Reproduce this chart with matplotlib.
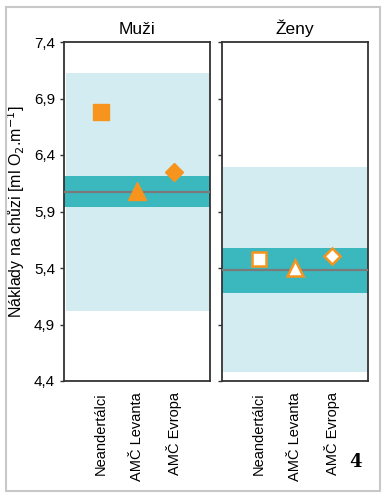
import numpy as np
import matplotlib.pyplot as plt
from matplotlib.patches import Rectangle

plt.rcParams['font.family'] = ['Liberation Sans', 'DejaVu Sans']

groups = ['Neandertálci', 'AMČ Levanta', 'AMČ Evropa']
panels = ['Muži', 'Ženy']
# values per panel: [muži, ženy]
values = [[6.78, 6.08, 6.25], [5.48, 5.40, 5.51]]
medians = [6.07, 5.38]
light_lo = [5.02, 4.48]
light_hi = [7.13, 6.29]
dark_lo = [5.94, 5.18]
dark_hi = [6.21, 5.58]
yticks = [4.4, 4.9, 5.4, 5.9, 6.4, 6.9, 7.4]
markers = ['s', '^', 'D']
msizes = [11, 13, 9]

orange = '#f7941d'
light = '#d3ecf1'
dark = '#3bb8bd'

fig = plt.figure(figsize=(3.86, 5.0), dpi=100)
fig.patches.append(Rectangle((6 / 386, 1 - 491 / 500), 374 / 386, 484 / 500,
                             transform=fig.transFigure, fill=False,
                             edgecolor='#c8c8c8', linewidth=1.5))

lefts = [0.166, 0.575]
for i in range(2):
    ax = fig.add_axes([lefts[i], 0.238, 0.379, 0.678])
    ax.axhspan(light_lo[i], light_hi[i], xmin=0.01, xmax=0.99, color=light, lw=0, zorder=1)
    ax.axhspan(dark_lo[i], dark_hi[i], color=dark, lw=0, zorder=2)
    ax.axhline(medians[i], color='#7a7a7a', lw=1.6, zorder=3)
    for j in range(3):
        if i == 0:
            ax.plot(j + 1, values[i][j], marker=markers[j], ms=msizes[j],
                    color=orange, mec=orange, zorder=4)
        else:
            ax.plot(j + 1, values[i][j], marker=markers[j], ms=msizes[j] - 1,
                    mfc='white', mec=orange, mew=1.8, zorder=4)
    ax.set_xlim(0, 4)
    ax.set_ylim(4.4, 7.4)
    ax.set_xticks([1, 2, 3])
    ax.set_xticklabels(groups, rotation=90, fontsize=10.5)
    ax.tick_params(axis='x', length=0, pad=8)
    ax.set_yticks(yticks)
    if i == 0:
        ax.set_yticklabels([('%.1f' % t).replace('.', ',') for t in yticks], fontsize=11)
        ax.set_ylabel('Náklady na chůzi [ml O$_2$.m$^{-1}$]', fontsize=11.5, labelpad=5)
    else:
        ax.set_yticklabels([])
    ax.tick_params(axis='y', length=3, width=1, color='#333333', direction='out')
    for s in ax.spines.values():
        s.set_color('#333333')
        s.set_linewidth(1.3)
    ax.set_title(panels[i], fontsize=12.5, pad=6)

fig.text(355 / 386, 1 - 462 / 500, '4', fontsize=13, fontweight='bold',
         family='DejaVu Serif', ha='center', va='center')

fig.savefig('out.png', dpi=100)
